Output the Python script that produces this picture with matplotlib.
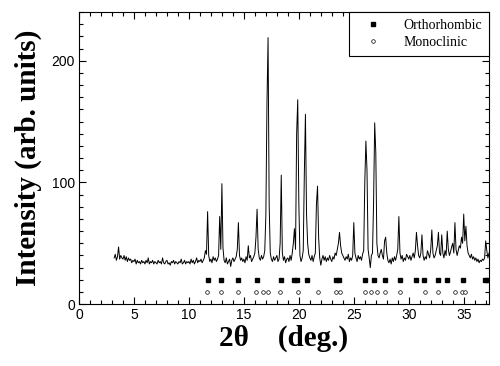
import numpy as np
import matplotlib
matplotlib.use("Agg")
import matplotlib.pyplot as plt
from matplotlib.ticker import MultipleLocator

# XRD pattern, 0.1 deg steps starting at 3.2 deg
start_angle = 3.2
step = 0.1
intensity = [
    38, 41, 36, 39, 47, 37, 40, 38,
    37, 40, 36, 39, 35, 38, 36, 37, 34, 36,
    35, 37, 33, 36, 34, 35, 33, 36, 34, 35,
    33, 36, 34, 38, 33, 35, 34, 36, 33, 35,
    34, 33, 36, 34, 35, 33, 38, 34, 33, 35,
    36, 33, 34, 32, 35, 34, 36, 33, 35, 34,
    33, 35, 34, 37, 33, 34, 36, 33, 35, 34,
    35, 33, 37, 34, 36, 33, 35, 38, 34, 36,
    35, 37, 34, 36, 38, 44, 41, 76, 40, 35,
    37, 34, 39, 36, 38, 35, 37, 40, 72, 45,
    99, 46, 36, 34, 38, 33, 35, 37, 31, 36,
    38, 35, 37, 39, 45, 67, 40, 36, 38, 35,
    37, 34, 39, 36, 48, 38, 40, 35, 37, 39,
    42, 55, 78, 45, 38, 36, 40, 37, 39, 44,
    73, 165, 219, 82, 42, 37, 35, 39, 36, 38,
    40, 35, 37, 50, 106, 42, 36, 39, 34, 37,
    38, 35, 40, 36, 42, 50, 62, 45, 140, 168,
    83, 40, 35, 38, 44, 107, 156, 74, 50, 41,
    38, 36, 40, 35, 39, 42, 82, 97, 55, 38,
    32, 37, 40, 36, 39, 35, 38, 36, 40, 37,
    35, 39, 37, 42, 40, 45, 50, 59, 48, 42,
    40, 38, 36, 39, 37, 41, 35, 38, 36, 40,
    67, 42, 38, 35, 40, 37, 39, 36, 41, 44,
    100, 134, 110, 45, 38, 30, 40, 42, 84, 149,
    125, 50, 40, 38, 42, 45, 40, 37, 52, 55,
    42, 36, 34, 37, 33, 38, 35, 39, 36, 40,
    45, 72, 42, 37, 40, 35, 38, 36, 41, 39,
    37, 40, 36, 39, 42, 38, 44, 59, 48, 40,
    38, 42, 57, 40, 36, 39, 37, 44, 41, 38,
    45, 61, 42, 38, 40, 44, 48, 59, 42, 40,
    57, 42, 38, 44, 40, 60, 45, 40, 43, 47,
    50, 42, 67, 45, 40, 44, 48, 46, 55, 50,
    74, 52, 64, 48, 42, 40, 38, 41, 37, 39,
    36, 38, 35, 37, 34, 36, 35, 37, 36, 38,
    52, 44, 38, 42,
]
two_theta = np.round(start_angle + step * np.arange(len(intensity)), 1)

# reflection markers
ortho_pos = [11.7, 12.95, 14.5, 16.2, 18.4, 19.6, 19.85, 20.75, 23.4, 23.65,
             26.05, 26.85, 27.85, 29.2, 30.65, 31.35, 32.7, 33.5, 34.9, 36.9, 37.2]
ortho_level = 20
mono_pos = [11.65, 12.9, 14.5, 16.1, 16.7, 17.2, 18.3, 19.9, 21.75, 23.4, 23.7,
            26.0, 26.55, 27.1, 27.8, 29.2, 31.45, 32.7, 34.2, 34.85, 35.15]
mono_level = 10

fig = plt.figure(figsize=(5, 3.66), dpi=100)
ax = fig.add_axes([0.158, 0.169, 0.82, 0.798])

ax.plot(two_theta, intensity, color='black', lw=0.7)
ax.plot(ortho_pos, [ortho_level] * len(ortho_pos), ls='none', marker='s',
        ms=2.8, color='black', label='Orthorhombic')
ax.plot(mono_pos, [mono_level] * len(mono_pos), ls='none', marker='o',
        ms=2.6, mfc='white', mec='black', mew=0.5, label='Monoclinic')

ax.set_xlim(0, 37.3)
ax.set_ylim(0, 240)
ax.xaxis.set_major_locator(MultipleLocator(5))
ax.xaxis.set_minor_locator(MultipleLocator(1))
ax.yaxis.set_major_locator(MultipleLocator(100))
ax.yaxis.set_minor_locator(MultipleLocator(10))
ax.tick_params(which='both', direction='in', top=True, right=True,
               labelsize=10, pad=3)
ax.tick_params(which='major', length=5, width=0.8)
ax.tick_params(which='minor', length=3, width=0.8)
for lab in ax.get_xticklabels() + ax.get_yticklabels():
    lab.set_fontfamily('Liberation Sans')

ax.set_xlabel('2\u03b8    (deg.)', fontfamily='Liberation Serif',
              fontweight='bold', fontsize=21, labelpad=2)
ax.set_ylabel('Intensity (arb. units)', fontfamily='Liberation Serif',
              fontweight='bold', fontsize=21, labelpad=7)

leg = ax.legend(loc='upper right', bbox_to_anchor=(1.0, 1.0),
                prop={'family': 'Liberation Serif', 'size': 10},
                fancybox=False, edgecolor='black', framealpha=1,
                borderaxespad=0, handletextpad=1.0, borderpad=0.5,
                labelspacing=0.3, handlelength=2.4)
leg.get_frame().set_linewidth(0.8)

fig.savefig('out.png', dpi=100)
